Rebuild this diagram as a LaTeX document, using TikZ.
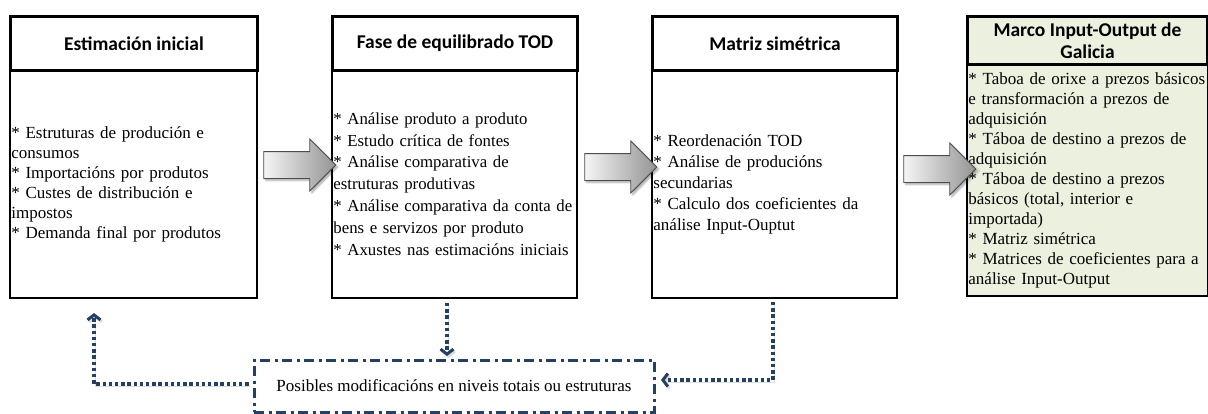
\documentclass[tikz,border=0pt]{standalone}
\usepackage{fontspec}
\setmainfont{Liberation Serif}
\newfontfamily\hdfont{Carlito}
\usetikzlibrary{arrows.meta,shapes.arrows,shadows.blur,calc}
\definecolor{navy}{RGB}{36,64,98}
\definecolor{paleg}{RGB}{235,241,222}
\newcommand{\nl}{\\\relax}
\begin{document}
\begin{tikzpicture}[x=1pt,y=-1pt,
  hdr/.style={draw, line width=3pt, anchor=north west, font=\hdfont\bfseries\fontsize{19.5}{21.5}\selectfont, align=center, inner sep=0pt},
  body/.style={draw, line width=1.8pt, anchor=north west, font=\fontsize{17}{20}\selectfont, align=left, inner xsep=1.5pt, inner ysep=0pt},
  barrow/.style={single arrow, draw=black!70, line width=0.8pt, left color=black!4, right color=black!42,
     minimum height=72pt, minimum width=51pt, single arrow head extend=12.5pt, inner xsep=0pt, inner ysep=13pt,
     blur shadow={shadow xshift=2pt, shadow yshift=-2pt, shadow blur steps=6, shadow opacity=35}},
  fb/.style={draw=navy, line width=3.4pt, dash pattern=on 3.4pt off 2.8pt,
     -{Straight Barb[length=5pt,width=13pt,line width=3pt]},
     preaction={draw=black!45, opacity=.3, transform canvas={xshift=1.5pt,yshift=-2pt}}}
]
\useasboundingbox (0,0) rectangle (1208,413);

% bodies
\node[body, text width=244pt, minimum height=228pt] (b1) at (9,69)
 {* Estruturas de produción e\nl consumos\nl * Importacións por produtos\nl * Custes de distribución e\nl impostos\nl * Demanda final por produtos};
\node[body, text width=242pt, minimum height=228pt, font=\fontsize{16.8}{21.8}\selectfont] (b2) at (331,69)
 {* Análise produto a produto\nl * Estudo crítica de fontes\nl * Análise comparativa de\nl estruturas produtivas\nl \mbox{* Análise comparativa da conta de}\nl bens e servizos por produto\nl * Axustes nas estimacións iniciais};
\node[body, text width=242pt, minimum height=228pt, font=\fontsize{17}{21}\selectfont] (b3) at (651,69)
 {* Reordenación TOD\nl * Análise de producións\nl secundarias\nl * Calculo dos coeficientes da\nl análise Input-Ouptut};
\node[body, fill=paleg, text width=238pt, minimum height=232pt] (b4) at (966,63)
 {\mbox{* Taboa de orixe a prezos básicos}\nl e transformación a prezos de\nl adquisición\nl * Táboa de destino a prezos de\nl adquisición\nl * Táboa de destino a prezos\nl básicos (total, interior e\nl importada)\nl * Matriz simétrica\nl \mbox{* Matrices de coeficientes para a}\nl análise Input-Output};

% headers
\node[hdr, minimum width=247pt, minimum height=54pt] (h1) at (9,15) {Estimación inicial};
\node[hdr, minimum width=245pt, minimum height=54pt] (h2) at (331,15) {Fase de equilibrado TOD};
\node[hdr, minimum width=245pt, minimum height=54pt] (h3) at (651,15) {Matriz simétrica};
\node[hdr, fill=paleg, minimum width=240pt, minimum height=48pt] (h4) at (966,15) {Marco Input-Output de\\Galicia};

% block arrows
\node[barrow] (a1) at (293,165) {};
\node[barrow] (a2) at (614,167) {};
\node[barrow] (a3) at (933,169) {};

% feedback box
\node[draw=navy, line width=3pt, dash pattern=on 10pt off 4.5pt on 3pt off 4.5pt,
  minimum width=400pt, minimum height=52pt, inner sep=0pt, font=\fontsize{17}{20}\selectfont] (pm) at (454,386)
  {Posibles modificacións en niveis totais ou estruturas};

\coordinate (c1) at (94,313);
\coordinate (c2) at (447,303);
\coordinate (c2e) at (447,356);
\coordinate (c3) at (773,302);
\coordinate (c3e) at (661,380);

\draw[fb] (c2) -- (c2e);
\draw[fb] (c3) |- (c3e);
\draw[fb] ([xshift=-4pt,yshift=2pt]pm.west) -| (c1);
\end{tikzpicture}
\end{document}
